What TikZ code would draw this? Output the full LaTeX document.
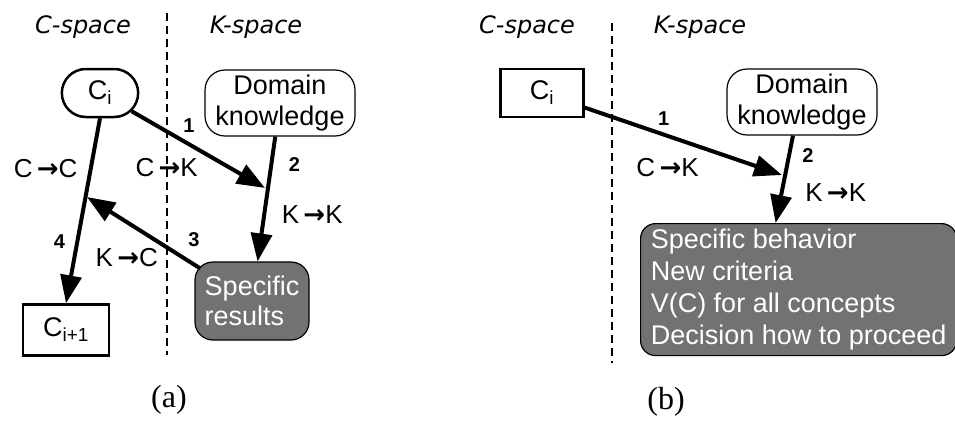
\documentclass[tikz,border=0pt]{standalone}
\usepackage{fontspec}
\setmainfont{Liberation Sans}
\newfontfamily\capfont{Liberation Serif}
\newfontfamily\handfont{DejaVu Sans}
\newfontfamily\arrowfont{DejaVu Sans}
\usetikzlibrary{arrows.meta, shapes.misc}

\definecolor{resultgray}{HTML}{727272}
\newcommand{\tto}{\,{\arrowfont\bfseries →}}

\begin{document}
\begin{tikzpicture}[x=1pt, y=-1pt,
    every node/.style={font=\fontsize{27}{31}\selectfont},
    concept/.style={draw, line width=2.5pt, minimum width=83pt, minimum height=48pt},
    know/.style={draw, line width=1.2pt, rounded corners=20pt, align=center, minimum width=150pt, minimum height=66pt, inner sep=0pt},
    result/.style={draw, line width=1.2pt, fill=resultgray, text=white, rounded corners=18pt},
    space/.style={font=\handfont\itshape\fontsize{24}{24}\selectfont},
    num/.style={font=\bfseries\fontsize{20}{20}\selectfont, inner sep=0pt},
    lbl/.style={inner sep=0pt, font=\fontsize{26}{26}\selectfont},
    sub/.style={font=\capfont\fontsize{32}{32}\selectfont},
    divide/.style={line width=1.2pt, dash pattern=on 8pt off 5pt},
    link/.style={line width=4pt, -{Triangle[length=28pt, width=21pt]}}]
  \useasboundingbox (0,0) rectangle (955,421);

  % (a)
  \node[space] (cspa) at (83,27) {C-space};
  \node[space] (kspa) at (256,27) {K-space};
  \draw[divide] (167,13) -- (167,355);
  \node[concept, rounded rectangle] (ci) at (100,93) {C\textsubscript{i}};
  \node[know] (dom) at (280,103) {Domain\\knowledge};
  \node[result, minimum width=114pt, minimum height=78pt, align=left, inner sep=0pt, font=\fontsize{27}{30}\selectfont] (sr) at (252,301) {Specific\\results};
  \node[concept, minimum width=86pt, minimum height=51pt] (ci1) at (66,330) {C\textsubscript{i+1}};
  \coordinate (a1) at (265,188);
  \coordinate (a3) at (87,197);
  \path[link]
  (ci) edge node[num, pos=.43, yshift=19pt] {1} node[lbl, pos=.263, yshift=-36pt] {C\tto K} (a1)
  (ci.south) edge node[num, pos=.667, xshift=-18pt] {4} node[lbl, pos=.274, xshift=-45pt] {C\tto C} (ci1.north)
  (dom) edge node[num, pos=.22, xshift=23pt] {2} node[lbl, pos=.625, xshift=48pt] {K\tto K} (sr)
  (sr) edge[shorten <=-7pt] node[num, pos=.05, xshift=5pt, yshift=22pt] {3} node[lbl, pos=.63, yshift=-35pt] {K\tto C} (a3);
  \node[sub] (capa) at (169,400) {(a)};

  % (b)
  \node[space] (cspb) at (527,27) {C-space};
  \node[space] (kspb) at (700,27) {K-space};
  \draw[divide] (612,23) -- (612,363);
  \node[concept] (cib) at (542,93) {C\textsubscript{i}};
  \node[know] (domb) at (802,102) {Domain\\knowledge};
  \node[result, anchor=north west, rounded corners=15pt, inner xsep=9pt, minimum width=316pt, minimum height=132pt, align=left, font=\fontsize{27}{32}\selectfont] (out) at (640,223)
    {Specific behavior\\New criteria\\V(C) for all concepts\\Decision how to proceed};
  \coordinate (b1) at (782,175);
  \path[link]
  (cib) edge node[num, pos=.4, yshift=16pt] {1} node[lbl, pos=.42, yshift=-32pt] {C\tto K} (b1)
  ([xshift=-9pt]domb.south) edge node[num, pos=.23, xshift=19pt] {2} node[lbl, pos=.65, xshift=54pt] {K\tto K} ([xshift=-23pt]out.north);
  \node[sub] (capb) at (666,402) {(b)};
\end{tikzpicture}
\end{document}
